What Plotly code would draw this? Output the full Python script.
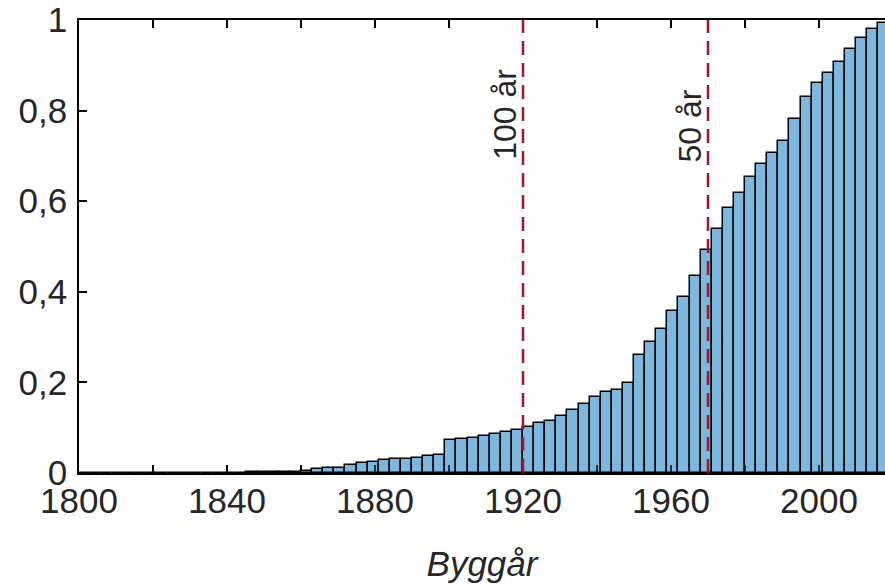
import plotly.graph_objects as go

# 3-year bins, left edges
bin_width = 3
bin_left = [1800 + 3 * k for k in range(73)]
cum_share = [0, 0, 0, 0, 0, 0, 0, 0, 0, 0, 0, 0,
             0.001, 0.001, 0.001, 0.0015, 0.002, 0.002, 0.002, 0.003,
             0.005, 0.008, 0.011, 0.012, 0.018, 0.021, 0.025, 0.028, 0.030, 0.031,
             0.034, 0.037, 0.040, 0.072, 0.074, 0.077, 0.081, 0.086, 0.091, 0.094,
             0.101, 0.110, 0.115, 0.125, 0.138, 0.153, 0.168, 0.178, 0.184, 0.199,
             0.261, 0.289, 0.317, 0.357, 0.388, 0.434, 0.493, 0.539, 0.586, 0.619,
             0.653, 0.683, 0.706, 0.733, 0.781, 0.830, 0.862, 0.883, 0.908, 0.936,
             0.961, 0.980, 0.993]

ref_years = [1920, 1970]
ref_labels = ["100 år", "50 år"]
label_y = [0.686, 0.68]

x_tickvals = list(range(1800, 2021, 20))
x_ticktext = [str(v) if (v - 1800) % 40 == 0 else "" for v in x_tickvals]
y_tickvals = [0, 0.2, 0.4, 0.6, 0.8, 1]
y_ticktext = ["0", "0,2", "0,4", "0,6", "0,8", "1"]

FONT = "Liberation Sans, Arial, sans-serif"
TXT = "#262626"
FS = 35

fig = go.Figure()
fig.add_trace(go.Bar(
    x=bin_left, y=cum_share, width=bin_width, offset=0,
    marker=dict(color="rgba(0,114,189,0.51)", line=dict(color="black", width=1.5)),
    showlegend=False, hoverinfo="skip",
))

for yr, lab, ly in zip(ref_years, ref_labels, label_y):
    fig.add_shape(type="line", xref="x", yref="y", x0=yr, x1=yr, y0=0, y1=1,
                  line=dict(color="#A2142F", width=2.5, dash="14px,8px"), layer="above")
    fig.add_annotation(x=yr, y=ly, xref="x", yref="y", text=lab, textangle=-90,
                       showarrow=False, xanchor="right", yanchor="bottom", xshift=2,
                       font=dict(family=FONT, size=32, color=TXT))

fig.update_layout(
    width=885, height=585,
    margin=dict(l=79, r=0, t=20, b=112),
    paper_bgcolor="white", plot_bgcolor="white",
    bargap=0,
    font=dict(family=FONT, size=FS, color=TXT),
    xaxis=dict(range=[1800, 1800 + (885 - 79) / 3.7], tickvals=x_tickvals, ticktext=x_ticktext,
               ticks="inside", ticklen=8, tickwidth=1.5, tickcolor="black",
               showline=True, linecolor="black", linewidth=1.5, mirror="ticks",
               showgrid=False, zeroline=False, layer="below traces", automargin=False,
               ticklabelstandoff=-4,
               tickfont=dict(family=FONT, size=FS, color=TXT),
               title=dict(text="<i>Byggår</i>", font=dict(family=FONT, size=FS, color=TXT), standoff=33)),
    yaxis=dict(range=[0, 1], tickvals=y_tickvals, ticktext=y_ticktext,
               ticks="inside", ticklen=8, tickwidth=1.5, tickcolor="black",
               showline=True, linecolor="black", linewidth=1.5,
               showgrid=False, zeroline=False, layer="below traces", automargin=False,
               ticklabelstandoff=3,
               tickfont=dict(family=FONT, size=FS, color=TXT)),
)

fig.write_html("out.html", config={"displayModeBar": False})

# remove default page margin so the figure fills the window exactly
with open("out.html", "r", encoding="utf-8") as f:
    html = f.read()
html = html.replace("<head>", "<head><style>html,body{margin:0;padding:0;overflow:hidden}</style>", 1)
with open("out.html", "w", encoding="utf-8") as f:
    f.write(html)
